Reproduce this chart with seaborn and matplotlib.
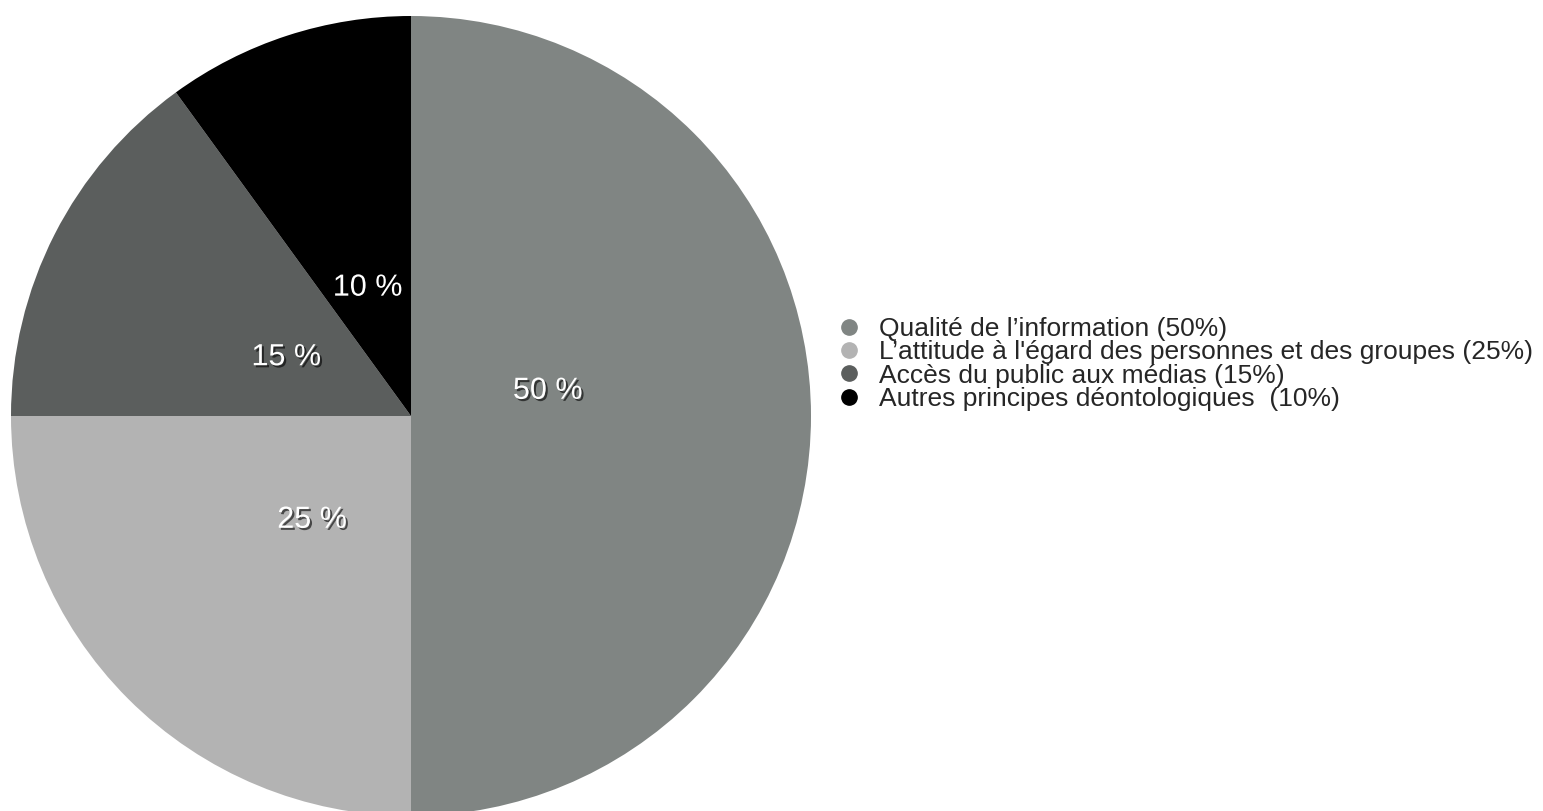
import matplotlib
matplotlib.use("Agg")
import matplotlib.pyplot as plt
import matplotlib.patheffects as pe
from matplotlib.lines import Line2D
import seaborn as sns

categories = [
    "Qualité de l’information (50%)",
    "L’attitude à l'égard des personnes et des groupes (25%)",
    "Accès du public aux médias (15%)",
    "Autres principes déontologiques  (10%)",
]
values = [50, 25, 15, 10]
colors = ["#808583", "#b3b3b3", "#5b5e5d", "#000000"]

sns.set_theme(style="white")
plt.rcParams["font.family"] = ["Liberation Sans", "DejaVu Sans"]

W, H = 1543, 811
fig = plt.figure(figsize=(W / 100, H / 100), dpi=100)
cx, cy, r = 411, 416, 400
ax = fig.add_axes([(cx - r) / W, (H - cy - r) / H, 2 * r / W, 2 * r / H])
pal = sns.color_palette(colors)

wedges, texts, autotexts = ax.pie(
    values, colors=pal, startangle=90, counterclock=False,
    autopct=lambda p: f"{p:.0f} %", pctdistance=0.35,
    wedgeprops=dict(linewidth=0),
    textprops=dict(color="white", fontsize=22),
)
shadow = [pe.withSimplePatchShadow(offset=(1.5, -1.5), shadow_rgbFace="black", alpha=0.6)]
for i, t in enumerate(autotexts):
    t.set_path_effects(shadow)
    x0, y0 = t.get_position()
    t.set_position((x0 - (0.008 if i == 0 else 0), y0 - 0.012 + (0.075 if i == 0 else 0)))
ax.set_xlim(-1, 1)
ax.set_ylim(-1, 1)
ax.set_aspect("equal")
ax.axis("off")

handles = [Line2D([], [], marker="o", linestyle="none", markersize=11,
                  markerfacecolor=c, markeredgecolor=c) for c in pal]
fig.legend(handles, categories, loc="center left",
           bbox_to_anchor=(838 / W, 1 - 364 / H), frameon=False,
           fontsize=19, handlelength=0.8, handletextpad=0.75,
           labelspacing=-0.03, borderpad=0, borderaxespad=0)

fig.savefig("out.png", dpi=100, facecolor="white")
